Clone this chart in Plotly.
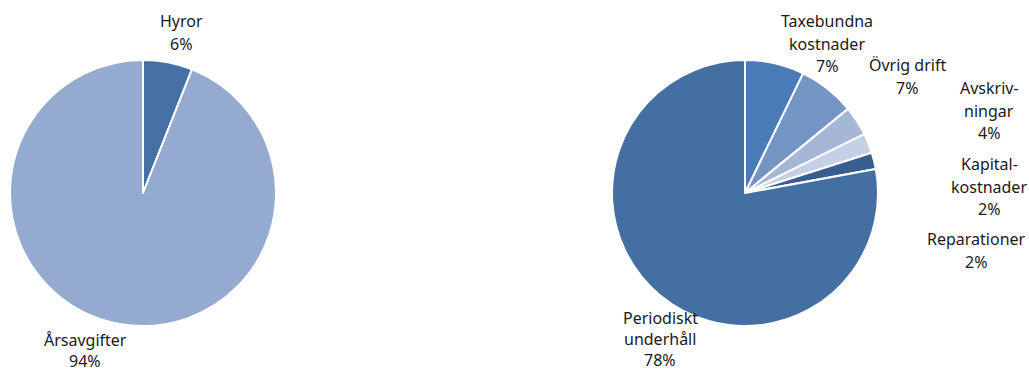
import plotly.graph_objects as go

W, H = 1029, 372

# Left pie: income
inc_labels = ["Hyror", "Årsavgifter"]
inc_values = [6, 94]
inc_colors = ["#4470a4", "#95aacf"]

# Right pie: costs
cost_labels = ["Taxebundna<br>kostnader", "Övrig drift", "Avskriv-<br>ningar",
               "Kapital-<br>kostnader", "Reparationer", "Periodiskt<br>underhåll"]
cost_values = [7.2, 6.9, 3.6, 2.4, 2.0, 77.9]
cost_colors = ["#4a7bb7", "#7494c4", "#a5b6d6", "#c5d0e6", "#3a5d8f", "#436fa2"]

# label anchor positions (screen pixels: centre x, first-line centre y, line step)
inc_label_pos = [(181, 21.5, 22.5), (85, 340, 20.5)]
cost_label_pos = [(827, 21, 22.5), (907, 65, 22.5), (989, 88, 22.5),
                  (989, 164, 22.5), (976, 239, 22.5), (660, 318, 21)]


def px(x):
    return x / W


def py(y):
    return 1 - y / H


def dom(x0, x1, y0, y1):
    return dict(x=[px(x0), px(x1)], y=[py(y1), py(y0)])


fig = go.Figure()
fig.add_trace(go.Pie(labels=inc_labels, values=inc_values, sort=False,
                     direction="clockwise", rotation=0, textinfo="none",
                     marker=dict(colors=inc_colors, line=dict(color="white", width=2)),
                     domain=dom(10, 276, 60, 326), hoverinfo="label+percent",
                     showlegend=False))
fig.add_trace(go.Pie(labels=cost_labels, values=cost_values, sort=False,
                     direction="clockwise", rotation=0, textinfo="none",
                     marker=dict(colors=cost_colors, line=dict(color="white", width=2)),
                     domain=dom(612, 878, 60, 326), hoverinfo="label+percent",
                     showlegend=False))


def add_labels(labels, values, positions):
    total = sum(values)
    for lab, v, (x0, y0, step) in zip(labels, values, positions):
        pct = round(100 * v / total)
        lines = lab.split("<br>") + [f"{pct}%"]
        for i, line in enumerate(lines):
            fig.add_annotation(x=px(x0), y=py(y0 + i * step), xref="paper", yref="paper",
                               text=line, showarrow=False,
                               xanchor="center", yanchor="middle", align="center",
                               font=dict(family="Noto Sans", size=16, color="#1a1a1a"))


add_labels(inc_labels, inc_values, inc_label_pos)
add_labels(cost_labels, cost_values, cost_label_pos)

fig.update_layout(width=W, height=H, margin=dict(l=0, r=0, t=0, b=0),
                  paper_bgcolor="white", plot_bgcolor="white",
                  font=dict(family="Noto Sans", size=16, color="#1a1a1a"))

fig.write_html("out.html", config={"displayModeBar": False},
               post_script="document.body.style.margin='0';"
                           "document.body.style.overflow='hidden';")
